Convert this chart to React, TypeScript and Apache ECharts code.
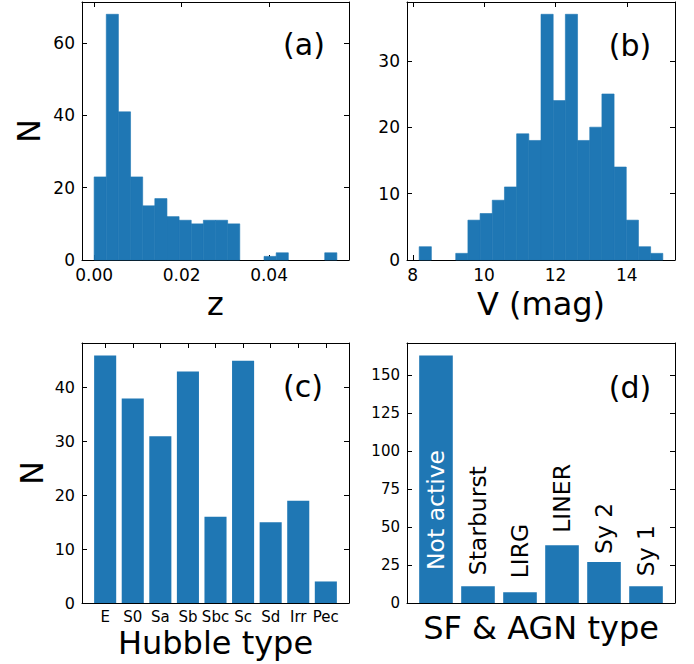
import React, { useEffect, useRef } from "react";
import * as echarts from "echarts";

// ---------- data ----------
const zCounts = [23, 68, 41, 23, 15, 17, 12, 11, 10, 11, 11, 10, 0, 0, 1, 2, 0, 0, 0, 2];
const zBinStart = 0.0;
const zBinWidth = 0.002775;
const zTicks = [0, 0.02, 0.04];
const zCountTicks = [0, 20, 40, 60];

const vCounts = [2, 0, 0, 1, 6, 7, 9, 11, 19, 18, 37, 24, 37, 18, 20, 25, 14, 6, 2, 1];
const vBinStart = 8.18;
const vBinWidth = 0.3415;
const vTicks = [8, 10, 12, 14];
const vCountTicks = [0, 10, 20, 30];

const hubbleTypes = ["E", "S0", "Sa", "Sb", "Sbc", "Sc", "Sd", "Irr", "Pec"];
const hubbleCounts = [46, 38, 31, 43, 16, 45, 15, 19, 4];
const hubbleCountTicks = [0, 10, 20, 30, 40];

const activityTypes = ["Not active", "Starburst", "LIRG", "LINER", "Sy 2", "Sy 1"];
const activityCounts = [163, 11, 7, 38, 27, 11];
const activityCountTicks = [0, 25, 50, 75, 100, 125, 150];

// label placement styling for panel (d) (pixels)
const activityLabelGap = [-33, 11, 14, 12.5, 8, 10];

const FONT = "DejaVu Sans";
const BLUE = "#1f77b4";

function App() {
  const ref = useRef<HTMLDivElement>(null);
  useEffect(() => {
    if (!ref.current) return;
    const chart = echarts.init(ref.current, null, { renderer: "svg" });

    const histData = (counts: number[], start: number, w: number) =>
      counts.map((c, i) => [start + i * w, start + (i + 1) * w, c]);
    const histExtent = (counts: number[], start: number, w: number) => {
      const lo = start;
      const hi = start + counts.length * w;
      const m = 0.05 * (hi - lo);
      return [lo - m, hi + m];
    };
    const barExtent = (n: number) => {
      const lo = -0.4;
      const hi = n - 1 + 0.4;
      const m = 0.05 * (hi - lo);
      return [lo - m, hi + m];
    };

    const zExt = histExtent(zCounts, zBinStart, zBinWidth);
    const vExt = histExtent(vCounts, vBinStart, vBinWidth);
    const hExt = barExtent(hubbleTypes.length);
    const aExt = barExtent(activityTypes.length);

    const lineStyle = { color: "#000", width: 1 };
    const labelStyle = (size: number, margin: number) => ({
      fontSize: size,
      fontFamily: FONT,
      color: "#000",
      margin,
    });
    const nameStyle = { fontSize: 32, fontFamily: FONT, color: "#000" };

    const xBottom = (grid: number, ext: number[], ticks: number[] | null, fmt: any, size: number, name: string, gap: number) => ({
      type: "value",
      gridIndex: grid,
      position: "bottom",
      min: ext[0],
      max: ext[1],
      axisLine: { show: true, onZero: false, lineStyle },
      axisTick: ticks
        ? { show: true, inside: true, length: 5, lineStyle, customValues: ticks }
        : { show: false },
      axisLabel: ticks
        ? { show: true, customValues: ticks, formatter: fmt, ...labelStyle(size, 6) }
        : { show: false },
      splitLine: { show: false },
      name,
      nameLocation: "middle",
      nameGap: gap,
      nameTextStyle: nameStyle,
    });
    const xTop = (grid: number, ext: number[], ticks: number[] | null) => ({
      type: "value",
      gridIndex: grid,
      position: "top",
      min: ext[0],
      max: ext[1],
      axisLine: { show: true, onZero: false, lineStyle },
      axisTick: ticks
        ? { show: true, inside: true, length: 5, lineStyle, customValues: ticks }
        : { show: false },
      axisLabel: { show: false },
      splitLine: { show: false },
    });
    const yLeft = (grid: number, max: number, ticks: number[], size: number, name: string, gap: number) => ({
      type: "value",
      gridIndex: grid,
      position: "left",
      min: 0,
      max,
      axisLine: { show: true, onZero: false, lineStyle },
      axisTick: { show: true, inside: true, length: 5, lineStyle, customValues: ticks },
      axisLabel: { show: true, customValues: ticks, ...labelStyle(size, 7) },
      splitLine: { show: false },
      name,
      nameLocation: "middle",
      nameRotate: 90,
      nameGap: gap,
      nameTextStyle: nameStyle,
    });
    const yRight = (grid: number, max: number, ticks: number[]) => ({
      type: "value",
      gridIndex: grid,
      position: "right",
      min: 0,
      max,
      axisLine: { show: true, onZero: false, lineStyle },
      axisTick: { show: true, inside: true, length: 5, lineStyle, customValues: ticks },
      axisLabel: { show: false },
      splitLine: { show: false },
    });

    const histRender = (params: any, api: any) => {
      const c = api.value(2);
      const p0 = api.coord([api.value(0), c]);
      const p1 = api.coord([api.value(1), 0]);
      const style: any = { fill: BLUE };
      if (c > 0) {
        style.stroke = BLUE;
        style.lineWidth = 0.6;
      }
      return {
        type: "rect",
        shape: { x: p0[0], y: p0[1], width: p1[0] - p0[0], height: p1[1] - p0[1] },
        style,
      };
    };
    const barRender = (withLabels: boolean) => (params: any, api: any) => {
      const i = api.value(0);
      const v = api.value(1);
      const p0 = api.coord([i - 0.4, v]);
      const p1 = api.coord([i + 0.4, 0]);
      const rect = {
        type: "rect",
        shape: { x: p0[0], y: p0[1], width: p1[0] - p0[0], height: p1[1] - p0[1] },
        style: { fill: BLUE },
      };
      if (!withLabels) return rect;
      const idx = params.dataIndex;
      const gap = activityLabelGap[idx];
      const inside = gap < 0;
      const anchorY = inside ? p1[1] + gap : p0[1] - gap;
      return {
        type: "group",
        children: [
          rect,
          {
            type: "text",
            x: (p0[0] + p1[0]) / 2,
            y: anchorY,
            rotation: Math.PI / 2,
            style: {
              text: activityTypes[idx],
              fill: inside ? "#fff" : "#000",
              fontSize: 23.5,
              fontFamily: FONT,
              align: "left",
              verticalAlign: "middle",
            },
          },
        ],
      };
    };

    const panelLabel = (text: string, x: number, y: number) => ({
      type: "text",
      x,
      y,
      style: {
        text,
        fontSize: 30,
        fontFamily: FONT,
        fill: "#000",
        align: "center",
        verticalAlign: "middle",
        textAlign: "center",
        textVerticalAlign: "middle",
      },
    });

    const option: any = {
      animation: false,
      backgroundColor: "#fff",
      grid: [
        { left: 82, top: 2, width: 267, height: 258 },
        { left: 407, top: 2, width: 268, height: 258 },
        { left: 82, top: 343, width: 267, height: 260 },
        { left: 407, top: 343, width: 268, height: 260 },
      ],
      xAxis: [
        xBottom(0, zExt, zTicks, (v: number) => v.toFixed(2), 17, "z", 28),
        xBottom(1, vExt, vTicks, (v: number) => String(v), 17, "V (mag)", 28),
        xBottom(2, hExt, hubbleTypes.map((_, i) => i), (v: number) => hubbleTypes[Math.round(v)], 15, "Hubble type", 24),
        xBottom(3, aExt, null, null, 15, "SF & AGN type", 9),
        xTop(0, zExt, zTicks),
        xTop(1, vExt, vTicks),
        xTop(2, hExt, hubbleTypes.map((_, i) => i)),
        xTop(3, aExt, null),
      ],
      yAxis: [
        yLeft(0, Math.max(...zCounts) * 1.05, zCountTicks, 17, "N", 37),
        yLeft(1, Math.max(...vCounts) * 1.05, vCountTicks, 17, "", 37),
        yLeft(2, Math.max(...hubbleCounts) * 1.05, hubbleCountTicks, 16, "N", 34),
        yLeft(3, Math.max(...activityCounts) * 1.05, activityCountTicks, 15, "", 37),
        yRight(0, Math.max(...zCounts) * 1.05, zCountTicks),
        yRight(1, Math.max(...vCounts) * 1.05, vCountTicks),
        yRight(2, Math.max(...hubbleCounts) * 1.05, hubbleCountTicks),
        yRight(3, Math.max(...activityCounts) * 1.05, activityCountTicks),
      ],
      series: [
        {
          type: "custom",
          xAxisIndex: 0,
          yAxisIndex: 0,
          data: histData(zCounts, zBinStart, zBinWidth),
          encode: { x: [0, 1], y: 2 },
          renderItem: histRender,
          silent: true,
          z: 1,
        },
        {
          type: "custom",
          xAxisIndex: 1,
          yAxisIndex: 1,
          data: histData(vCounts, vBinStart, vBinWidth),
          encode: { x: [0, 1], y: 2 },
          renderItem: histRender,
          silent: true,
          z: 1,
        },
        {
          type: "custom",
          xAxisIndex: 2,
          yAxisIndex: 2,
          data: hubbleCounts.map((c, i) => [i, c]),
          encode: { x: 0, y: 1 },
          renderItem: barRender(false),
          silent: true,
          z: 1,
        },
        {
          type: "custom",
          xAxisIndex: 3,
          yAxisIndex: 3,
          data: activityCounts.map((c, i) => [i, c]),
          encode: { x: 0, y: 1 },
          renderItem: barRender(true),
          silent: true,
          clip: false,
          z: 1,
        },
      ],
      graphic: [
        panelLabel("(a)", 304, 44),
        panelLabel("(b)", 630, 45),
        panelLabel("(c)", 303, 386),
        panelLabel("(d)", 630, 387),
      ],
    };

    chart.setOption(option);
    return () => chart.dispose();
  }, []);

  return (
    <div
      ref={ref}
      style={{ position: "fixed", left: 0, top: 0, width: 694, height: 664 }}
    />
  );
}

export default App;
